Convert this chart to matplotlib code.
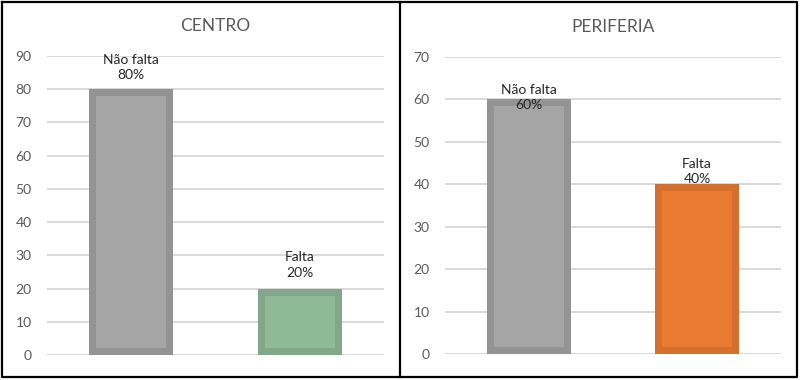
import matplotlib.pyplot as plt
from matplotlib.lines import Line2D

# data
categories = ["Não falta", "Falta"]
centro_values = [80, 20]
centro_labels = ["80%", "20%"]
periferia_values = [60, 40]
periferia_labels = ["60%", "40%"]

plt.rcParams['font.family'] = ['Lato', 'DejaVu Sans']

fig = plt.figure(figsize=(8, 3.8), dpi=100)

gray_fill, gray_edge = "#A5A5A5", "#939393"
green_fill, green_edge = "#8FBA96", "#83A889"
orange_fill, orange_edge = "#E97B31", "#D56F2D"


def panel(rect, title, values, labels, ymax, fills, edges, label_px):
    ax = fig.add_axes(rect)
    x = range(len(categories))
    bars = ax.bar(x, values, width=0.5, color=fills, edgecolor=edges, linewidth=10, zorder=3)
    # keep the thick outline inside the bar, like Excel does
    for b in bars:
        b.set_clip_path(b)
    ax.set_xlim(-0.5, 1.5)
    ax.set_ylim(0, ymax)
    ax.set_yticks(range(0, ymax + 1, 10))
    ax.set_xticks([])
    ax.grid(axis="y", color="#D9D9D9", linewidth=1.4, zorder=0)
    for s in ax.spines.values():
        s.set_visible(False)
    ax.tick_params(axis="y", length=0, pad=11, labelsize=10, labelcolor="#595959")
    for i in x:
        ax.annotate(categories[i] + "\n" + labels[i], (i, values[i]),
                    xytext=(0, label_px[i] * 0.72), textcoords="offset points",
                    ha="center", va="baseline", fontsize=10, color="#262626",
                    linespacing=1.35, zorder=4)
    ax.set_title(title, fontsize=12.5, color="#595959", pad=18)
    return ax


panel([0.05875, 0.0658, 0.42125, 0.7868], "CENTRO",
      centro_values, centro_labels, 90,
      [gray_fill, green_fill], [gray_edge, green_edge], [10, 12])
panel([0.55625, 0.0684, 0.42, 0.7816], "PERIFERIA",
      periferia_values, periferia_labels, 70,
      [gray_fill, orange_fill], [gray_edge, orange_edge], [-10, 1])

# black frames around the two panels
W, H = 800, 380
frame = [(1.5, 1.5), (797, 1.5), (797, 377), (1.5, 377), (1.5, 1.5)]
fig.add_artist(Line2D([p[0] / W for p in frame], [1 - p[1] / H for p in frame],
                      color="black", linewidth=1.6, transform=fig.transFigure))
fig.add_artist(Line2D([399.5 / W, 399.5 / W], [1 - 1.5 / H, 1 - 377 / H],
                      color="black", linewidth=1.6, transform=fig.transFigure))

fig.savefig("out.png", dpi=100)
